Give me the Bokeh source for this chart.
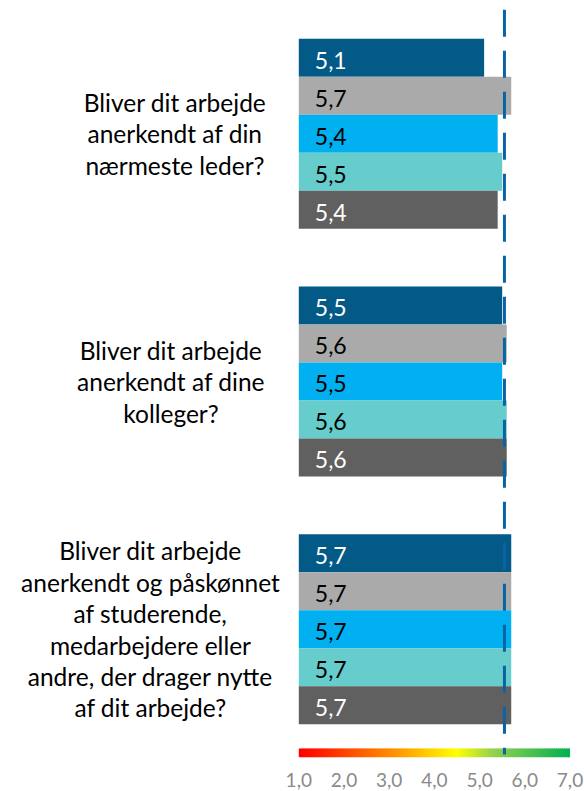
from bokeh.plotting import figure
from bokeh.models import Range1d, ColumnDataSource
from bokeh.core.properties import value
from bokeh.embed import file_html
from bokeh.resources import INLINE

# ---------------- data ----------------
questions = [
    "Bliver dit arbejde\nanerkendt af din\nnærmeste leder?",
    "Bliver dit arbejde\nanerkendt af dine\nkolleger?",
    "Bliver dit arbejde\nanerkendt og påskønnet\naf studerende,\nmedarbejdere eller\nandre, der drager nytte\naf dit arbejde?",
]
series_1 = [5.1, 5.5, 5.7]
series_2 = [5.7, 5.6, 5.7]
series_3 = [5.4, 5.5, 5.7]
series_4 = [5.5, 5.6, 5.7]
series_5 = [5.4, 5.6, 5.7]
reference_value = 5.55
tick_values = [1, 2, 3, 4, 5, 6, 7]
tick_labels = ["1,0", "2,0", "3,0", "4,0", "5,0", "6,0", "7,0"]

# ---------------- style / layout ----------------
series_list = [series_1, series_2, series_3, series_4, series_5]
bar_colors = ["#035A87", "#AAAAAA", "#00B0F0", "#66CCCC", "#606060"]
label_colors = ["white", "black", "black", "black", "white"]
FONT = "Lato"

W, H = 584, 791
PX_PER_UNIT_X = 45.2      # pixels per scale unit
X0_PX = 298.3             # pixel of value 1.0
BAR_PX = 38.0             # bar thickness in px (1 y-unit)
TOP_PX = 38.3             # first bar top, px from top
GROUP_STEP = 6.52         # in bar units
label_center_px = [174.5, 170.5, 150.0]

x_start = 1 - X0_PX / PX_PER_UNIT_X
x_end = x_start + W / PX_PER_UNIT_X
y_top = -TOP_PX / BAR_PX
y_bottom = y_top + H / BAR_PX


def px_to_x(px):
    return x_start + px / PX_PER_UNIT_X


def py_to_y(py):
    return y_top + py / BAR_PX


p = figure(width=W, height=H, output_backend="svg", toolbar_location=None,
           x_range=Range1d(x_start, x_end), y_range=Range1d(y_bottom, y_top),
           min_border=0, outline_line_color=None)
p.axis.visible = False
p.xgrid.visible = False
p.ygrid.visible = False
p.background_fill_color = "white"
p.border_fill_color = "white"

# bars
for si, (vals, col, lcol) in enumerate(zip(series_list, bar_colors, label_colors)):
    ys = [g * GROUP_STEP + si + 0.5 for g in range(len(vals))]
    src = ColumnDataSource(dict(
        y=ys, right=vals, left=[tick_values[0]] * len(vals),
        txt=[f"{v:.1f}".replace(".", ",") for v in vals],
        tx=[tick_values[0] + 16.0 / PX_PER_UNIT_X] * len(vals),
        ty=[y + 0.06 for y in ys],
    ))
    p.hbar(y="y", left="left", right="right", height=1.0, source=src,
           fill_color=col, line_color=None)
    p.text(x="tx", y="ty", text="txt", source=src, text_color=lcol,
           text_font=value(FONT), text_font_size="23px",
           text_baseline="middle", text_align="left")

# category labels
cat_src = ColumnDataSource(dict(
    x=[px_to_x(px) for px in label_center_px],
    y=[g * GROUP_STEP + 2.5 for g in range(len(questions))],
    t=questions,
))
p.text(x="x", y="y", text="t", source=cat_src, text_color="black",
       text_font=value(FONT), text_font_size="24.5px", text_align="center",
       text_baseline="middle", text_line_height=1.085)

# gradient scale bar
stops = [(0.0, (255, 0, 0)), (0.05, (255, 16, 0)), (0.37, (255, 154, 0)),
         (0.58, (255, 255, 0)), (0.72, (146, 208, 80)), (1.0, (0, 176, 80))]


def grad(t):
    for (t0, c0), (t1, c1) in zip(stops[:-1], stops[1:]):
        if t0 <= t <= t1:
            f = (t - t0) / (t1 - t0)
            return "#%02x%02x%02x" % tuple(int(round(a + (b - a) * f)) for a, b in zip(c0, c1))
    return "#%02x%02x%02x" % stops[-1][1]


N = 136
lo, hi = tick_values[0], tick_values[-1]
step = (hi - lo) / N
g_left = [lo + i * step for i in range(N)]
g_right = [lo + (i + 1) * step + step * 0.4 if i < N - 1 else hi for i in range(N)]
g_col = [grad((i + 0.5) / N) for i in range(N)]
p.quad(left=g_left, right=g_right, top=py_to_y(748.0), bottom=py_to_y(756.7),
       fill_color=g_col, line_color=None)

# tick labels
tick_src = ColumnDataSource(dict(x=tick_values, y=[py_to_y(779.0)] * len(tick_values), t=tick_labels))
p.text(x="x", y="y", text="t", source=tick_src, text_color="#8A8A8A",
       text_font=value(FONT), text_font_size="19px", text_align="center",
       text_baseline="middle")

# dashed reference line
p.segment(x0=[reference_value], y0=[py_to_y(9.3)], x1=[reference_value], y1=[py_to_y(754.0)],
          line_color="#0A64A4", line_width=3, line_dash="27 14")

open("out.html", "w").write(file_html(p, INLINE))
